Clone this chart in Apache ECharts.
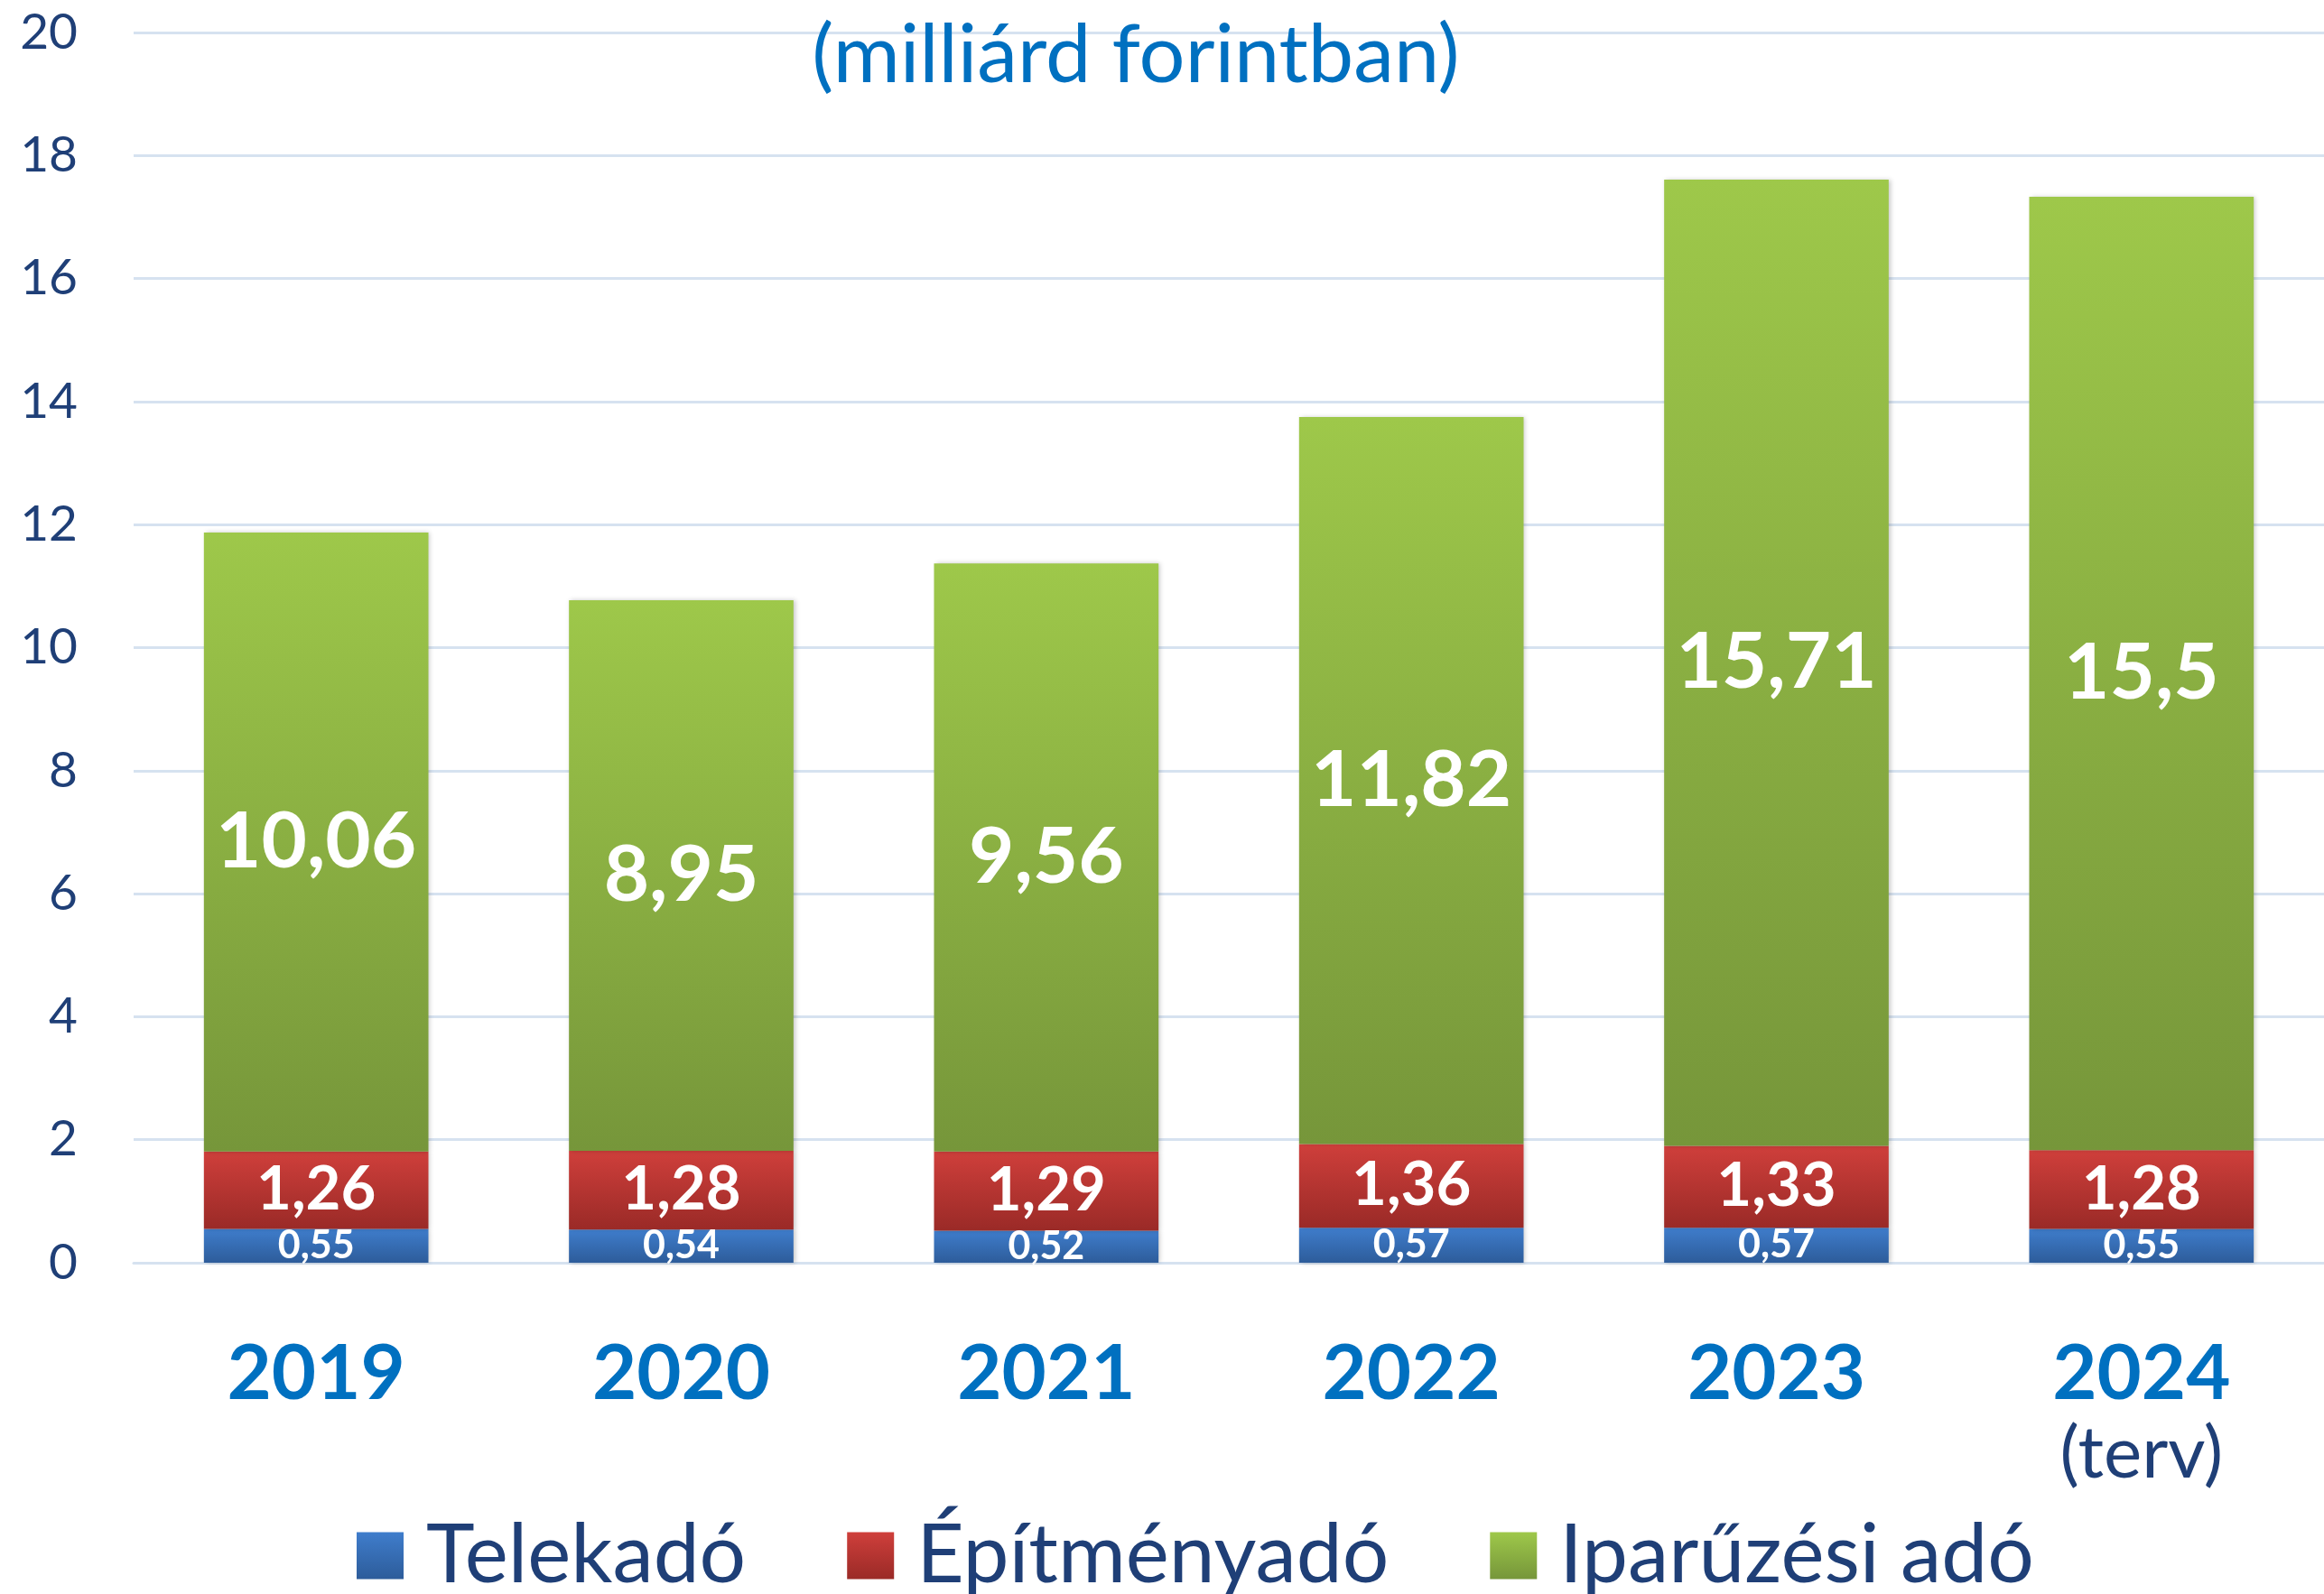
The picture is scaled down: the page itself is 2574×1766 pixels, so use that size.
<!DOCTYPE html>
<html>
<head>
<meta charset="utf-8">
<script src="https://cdn.jsdelivr.net/npm/echarts@6/dist/echarts.min.js"></script>
<style>
  html, body { margin: 0; padding: 0; background: #fff; }
  #chart { width: 2574px; height: 1766px; }
</style>
</head>
<body>
<div id="chart"></div>
<script>
// adatok (milliárd forint)
const years = ['2019', '2020', '2021', '2022', '2023', '2024']
const yearNotes = ['', '', '', '', '', '(terv)']
const telekado = [0.55, 0.54, 0.52, 0.57, 0.57, 0.55]
const epitmenyado = [1.26, 1.28, 1.29, 1.36, 1.33, 1.28]
const iparuzesi = [10.06, 8.95, 9.56, 11.82, 15.71, 15.5]
const yTicks = [0, 2, 4, 6, 8, 10, 12, 14, 16, 18, 20]

const FONT = 'Lato, "Open Sans", sans-serif'
const NAVY = '#1F3F77'

const grad = (top, bottom) => new echarts.graphic.LinearGradient(0, 0, 0, 1, [
  { offset: 0, color: top },
  { offset: 1, color: bottom }
])

// tizedesvessző
const fmt = (p) => String(p.value).replace('.', ',')

const makeSeries = (name, data, top, bottom, labelSize) => ({
  name: name,
  type: 'bar',
  stack: 'total',
  data: data,
  barCategoryGap: '38.5%',
  itemStyle: {
    color: grad(top, bottom),
    shadowBlur: 5,
    shadowColor: 'rgba(0,0,0,0.22)',
    shadowOffsetX: 2
  },
  label: {
    show: true,
    position: 'inside',
    formatter: fmt,
    color: '#fff',
    fontFamily: FONT,
    fontWeight: 'bold',
    fontSize: labelSize
  }
})

const chart = echarts.init(document.getElementById('chart'))

chart.setOption({
  animation: false,
  title: {
    text: '(milliárd forintban)',
    left: 1253,
    textAlign: 'center',
    top: 12,
    textStyle: {
      color: '#0070C0',
      fontFamily: FONT,
      fontWeight: 'normal',
      fontSize: 90
    }
  },
  grid: {
    left: 148,
    width: 2436,
    top: 36,
    bottom: 367
  },
  legend: {
    left: 390,
    bottom: -8,
    icon: 'rect',
    itemWidth: 52,
    itemHeight: 52,
    itemGap: 112,
    textStyle: {
      color: NAVY,
      fontFamily: FONT,
      fontSize: 91,
      padding: [0, 0, 0, 20]
    },
    data: ['Telekadó', 'Építményadó', 'Iparűzési adó']
  },
  xAxis: {
    type: 'category',
    data: years,
    axisLine: { lineStyle: { color: '#D6E2F0', width: 3 } },
    axisTick: { show: false },
    axisLabel: {
      margin: 78,
      verticalAlign: 'top',
      formatter: (v, i) => yearNotes[i] ? '{y|' + v + '}\n{t|' + yearNotes[i] + '}' : '{y|' + v + '}',
      rich: {
        y: { fontFamily: FONT, fontWeight: 'bold', fontSize: 85, color: '#0070C0', lineHeight: 92 },
        t: { fontFamily: FONT, fontSize: 80, color: NAVY, lineHeight: 84 }
      }
    }
  },
  yAxis: {
    type: 'value',
    min: yTicks[0],
    max: yTicks[yTicks.length - 1],
    interval: 2,
    axisLine: { show: false },
    axisTick: { show: false },
    axisLabel: {
      margin: 62,
      color: NAVY,
      fontFamily: FONT,
      fontSize: 55
    },
    splitLine: { lineStyle: { color: '#D6E2F0', width: 3 } }
  },
  series: [
    makeSeries('Telekadó', telekado, '#3F7DCC', '#2D5C9A', 43),
    makeSeries('Építményadó', epitmenyado, '#CF3F3B', '#9A2A27', 67),
    makeSeries('Iparűzési adó', iparuzesi, '#9EC84A', '#76963A', 87)
  ]
})
</script>
</body>
</html>
